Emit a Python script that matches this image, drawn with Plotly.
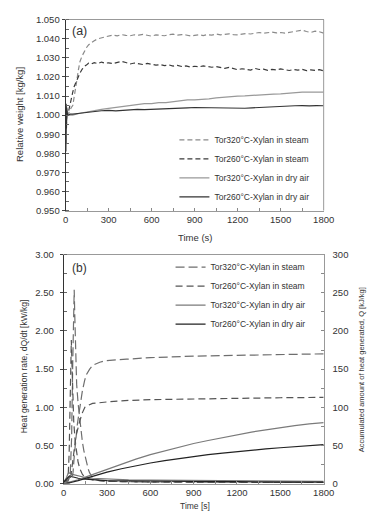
import plotly.graph_objects as go

# ---------------- Panel (a): relative weight ----------------
t_steam = [0, 2, 4, 6, 8, 10, 12, 15, 20, 25, 30, 40, 50, 60, 70, 80, 90, 100, 115, 130,
           145, 160, 180, 200, 225, 250, 275, 300,
           330, 360, 390, 420, 450, 480, 510, 540, 570, 600, 630, 660, 690, 720, 750, 780,
           810, 840, 870, 900, 930, 960, 990, 1020, 1050, 1080, 1110, 1140, 1170, 1200,
           1230, 1260, 1290, 1320, 1350, 1380, 1410, 1440, 1470, 1500, 1530, 1560, 1590,
           1620, 1650, 1680, 1710, 1740, 1770, 1800]
w_steam320 = [1.000, 0.992, 1.003, 0.997, 1.001, 0.999, 1.001, 1.000, 1.001, 1.002, 1.003,
              1.004, 1.005, 1.009, 1.014, 1.019, 1.024, 1.028, 1.031, 1.0335, 1.0353, 1.0368,
              1.038, 1.039, 1.040, 1.0405, 1.041, 1.0415,
              1.0420, 1.0415, 1.0422, 1.0418, 1.0416, 1.0421, 1.0419, 1.0423, 1.0417, 1.0414,
              1.0420, 1.0418, 1.0416, 1.0421, 1.0424, 1.0419, 1.0422, 1.0420, 1.0415, 1.0418,
              1.0421, 1.0417, 1.0422, 1.0419, 1.0425, 1.0421, 1.0423, 1.0426, 1.0422, 1.0420,
              1.0424, 1.0428, 1.0425, 1.0430, 1.0433, 1.0429, 1.0432, 1.0435, 1.0431, 1.0433,
              1.0430, 1.0434, 1.0437, 1.0441, 1.0445, 1.0438, 1.0433, 1.0440, 1.0437, 1.0430]
w_steam260 = [1.000, 0.985, 1.004, 0.995, 1.002, 0.998, 1.001, 1.000, 1.002, 1.004, 1.006,
              1.008, 1.012, 1.015, 1.017, 1.019, 1.021, 1.022, 1.024, 1.0255, 1.0262, 1.0272,
              1.0268, 1.0275, 1.0270, 1.0278, 1.0272, 1.0274,
              1.0270, 1.0275, 1.0282, 1.0276, 1.0268, 1.0273, 1.0270, 1.0265, 1.0271, 1.0268,
              1.0262, 1.0265, 1.0259, 1.0263, 1.0257, 1.0261, 1.0255, 1.0258, 1.0252, 1.0256,
              1.0253, 1.0258, 1.0255, 1.0251, 1.0254, 1.0248, 1.0245, 1.0250, 1.0242, 1.0238,
              1.0243, 1.0240, 1.0236, 1.0245, 1.0239, 1.0241, 1.0235, 1.0240, 1.0237, 1.0242,
              1.0238, 1.0234, 1.0239, 1.0236, 1.0240, 1.0233, 1.0237, 1.0234, 1.0238, 1.0232]

t_dry = [0, 2, 4, 6, 8, 10, 12, 15, 20, 30, 50,
         100, 150, 200, 250, 300, 350, 400, 450, 500, 550, 600, 650, 700, 750, 800, 850,
         900, 950, 1000, 1050, 1100, 1150, 1200, 1250, 1300, 1350, 1400, 1450, 1500, 1550,
         1600, 1650, 1700, 1750, 1800]
w_dry320 = [1.000, 0.990, 1.005, 0.996, 1.003, 0.999, 1.002, 1.000, 1.0005, 1.000, 1.000,
            1.001, 1.0017, 1.0025, 1.003, 1.0035, 1.004, 1.0045, 1.005, 1.0055, 1.006, 1.006,
            1.0065, 1.0066, 1.007, 1.0075, 1.008, 1.008, 1.0081, 1.0085, 1.009, 1.0094,
            1.0096, 1.010, 1.0101, 1.0104, 1.0106, 1.011, 1.011, 1.0111, 1.0115, 1.0116,
            1.012, 1.012, 1.0121, 1.012]
w_dry260 = [1.000, 0.981, 1.006, 0.993, 1.004, 0.998, 1.001, 1.000, 1.000, 1.0005, 1.0005,
            1.001, 1.0015, 1.002, 1.0023, 1.0025, 1.0022, 1.0025, 1.0028, 1.003, 1.0029,
            1.003, 1.0032, 1.0033, 1.0035, 1.0037, 1.0038, 1.004, 1.0039, 1.0038, 1.0037,
            1.0036, 1.0035, 1.0034, 1.0036, 1.0038, 1.004, 1.0042, 1.0045, 1.0048, 1.0047,
            1.0049, 1.005, 1.0048, 1.005, 1.0049]

# ---------------- Panel (b): heat generation ----------------
t_rate320s = [0, 30, 45, 55, 63, 70, 73, 77, 82, 90, 100, 110, 120, 130, 140, 150, 160, 170,
              180, 190, 200, 225, 250, 300, 400, 600, 900, 1200, 1500, 1800]
r_steam320 = [0.02, 0.03, 0.10, 0.60, 1.60, 2.40, 2.54, 2.20, 1.70, 1.30, 1.05, 0.85, 0.68,
              0.54, 0.43, 0.34, 0.26, 0.19, 0.14, 0.10, 0.08, 0.05, 0.04, 0.03, 0.025, 0.02,
              0.02, 0.015, 0.015, 0.015]
t_rate260s = [0, 30, 38, 45, 50, 53, 57, 62, 70, 80, 90, 100, 113, 130, 150, 200, 300, 600,
              1200, 1800]
r_steam260 = [0.02, 0.05, 0.40, 1.20, 1.70, 1.88, 1.60, 1.20, 0.80, 0.55, 0.40, 0.28, 0.19,
              0.12, 0.08, 0.05, 0.03, 0.02, 0.015, 0.015]
t_ratedry = [0, 20, 30, 40, 60, 100, 150, 200, 300, 450, 600, 900, 1200, 1500, 1800]
r_dry320 = [0.02, 0.08, 0.13, 0.14, 0.12, 0.10, 0.08, 0.07, 0.06, 0.05, 0.045, 0.04, 0.035,
            0.03, 0.03]
r_dry260 = [0.02, 0.06, 0.09, 0.10, 0.09, 0.07, 0.06, 0.05, 0.04, 0.035, 0.03, 0.028, 0.025,
            0.022, 0.02]

t_Q320s = [0, 40, 55, 65, 75, 85, 95, 102, 115, 130, 145, 158, 180, 202, 250, 291, 435, 600,
           900, 1200, 1500, 1800]
Q_steam320 = [0, 0, 3, 15, 40, 62, 78, 87, 105, 122, 135, 143, 150, 155, 159, 161, 163, 165,
              167, 168, 169, 170]
t_Q260s = [0, 35, 40, 50, 60, 70, 80, 90, 100, 113, 130, 147, 175, 200, 300, 450, 600, 900,
           1200, 1500, 1800]
Q_steam260 = [0, 0, 2, 10, 25, 42, 55, 66, 75, 83, 93, 100, 103, 105, 107, 109, 110, 111,
              112, 112.5, 113]
t_Qdry = [0, 50, 100, 150, 200, 250, 300, 400, 500, 600, 700, 800, 900, 1000, 1100, 1200,
          1300, 1400, 1500, 1600, 1700, 1800]
Q_dry320 = [0, 2, 5, 8.5, 12, 15.5, 19, 25.5, 32, 38, 43, 48, 52.5, 56.5, 60.5, 64, 67.5,
            70.5, 73.5, 76, 78.2, 80]
Q_dry260 = [0, 1.5, 4, 7, 10, 12.5, 15, 19.5, 23.5, 27, 30, 33, 35.5, 38, 40, 42, 44, 45.5,
            47, 48.5, 50, 51]

names = ["Tor320°C-Xylan in steam", "Tor260°C-Xylan in steam",
         "Tor320°C-Xylan in dry air", "Tor260°C-Xylan in dry air"]

W, H = 378, 517
FONT = "Liberation Sans, Arial, sans-serif"

def px_x(p):
    return p / W

def px_y(p):
    return 1 - p / H

fig = go.Figure()

styleA = [dict(color="#8a8a8a", width=1.2, dash="5px,3px"),
          dict(color="#3a3a3a", width=1.2, dash="5px,3px"),
          dict(color="#999999", width=1.2),
          dict(color="#333333", width=1.2)]
seriesA = [(t_steam, w_steam320), (t_steam, w_steam260), (t_dry, w_dry320), (t_dry, w_dry260)]
for (tx, wy), nm, st in zip(seriesA, names, styleA):
    fig.add_trace(go.Scatter(x=tx, y=wy, mode="lines", name=nm, line=st,
                             xaxis="x", yaxis="y", legend="legend"))

styleB = [dict(color="#6e6e6e", width=1.2, dash="9px,4px"),
          dict(color="#555555", width=1.2, dash="7px,4px"),
          dict(color="#7a7a7a", width=1.2),
          dict(color="#222222", width=1.2)]
rates = [(t_rate320s, r_steam320), (t_rate260s, r_steam260), (t_ratedry, r_dry320), (t_ratedry, r_dry260)]
accs = [(t_Q320s, Q_steam320), (t_Q260s, Q_steam260), (t_Qdry, Q_dry320), (t_Qdry, Q_dry260)]
for (tr, rv), (tq, qv), nm, st in zip(rates, accs, names, styleB):
    fig.add_trace(go.Scatter(x=tr, y=rv, mode="lines", name=nm, line=st,
                             xaxis="x2", yaxis="y2", legend="legend2", legendgroup=nm))
    fig.add_trace(go.Scatter(x=tq, y=qv, mode="lines", name=nm, line=st, showlegend=False,
                             xaxis="x2", yaxis="y3", legend="legend2", legendgroup=nm))

tickfont = dict(family=FONT, size=9.5, color="#333")

common_x = dict(range=[0, 1800], tickvals=[0, 300, 600, 900, 1200, 1500, 1800],
                ticks="inside", ticklen=3, tickcolor="#888",
                minor=dict(dtick=150, ticks="inside", ticklen=3, tickcolor="#888"),
                showline=True, linecolor="#999", linewidth=1, mirror=True,
                showgrid=False, zeroline=False, tickfont=tickfont)

fig.update_layout(
    width=W, height=H,
    margin=dict(l=0, r=0, t=0, b=0),
    paper_bgcolor="white", plot_bgcolor="white",
    font=dict(family=FONT, color="#333"),
    showlegend=True,
    xaxis=dict(domain=[px_x(65), px_x(333)], anchor="y", **common_x),
    yaxis=dict(domain=[px_y(209), px_y(14)], anchor="x", range=[0.95, 1.05], dtick=0.01,
               tickformat=".3f", ticks="outside", ticklen=3, tickcolor="#444",
               minor=dict(dtick=0.005, ticks="inside", ticklen=3, tickcolor="#666"),
               showline=True, linecolor="#333", linewidth=1, mirror=False,
               showgrid=False, zeroline=False, tickfont=tickfont),
    xaxis2=dict(domain=[px_x(63), px_x(333)], anchor="y2", **common_x),
    yaxis2=dict(domain=[px_y(488), px_y(254)], anchor="x2", range=[0, 3], dtick=0.5,
                tickformat=".2f", ticks="outside", ticklen=3, tickcolor="#444",
                ticklabelstandoff=4,
                minor=dict(dtick=0.25, ticks="inside", ticklen=3, tickcolor="#666"),
                showline=True, linecolor="#333", linewidth=1, mirror=False,
                showgrid=False, zeroline=False, tickfont=tickfont),
    yaxis3=dict(overlaying="y2", side="right", anchor="x2", range=[0, 300], dtick=50,
                ticks="inside", ticklen=3, tickcolor="#888", ticklabelstandoff=6,
                minor=dict(dtick=25, ticks="inside", ticklen=3, tickcolor="#888"),
                showline=True, linecolor="#999", linewidth=1,
                showgrid=False, zeroline=False, tickfont=tickfont),
    legend=dict(x=px_x(178), y=px_y(122), xanchor="left", yanchor="top",
                bgcolor="rgba(0,0,0,0)", font=dict(family=FONT, size=8.5, color="#333"),
                itemwidth=30, tracegroupgap=0),
    legend2=dict(x=px_x(174), y=px_y(252), xanchor="left", yanchor="top",
                 bgcolor="rgba(0,0,0,0)", font=dict(family=FONT, size=8.5, color="#333"),
                 itemwidth=30, tracegroupgap=0),
)

# right border of panel (a)
fig.add_shape(type="line", xref="x domain", yref="y domain", x0=1, x1=1, y0=0, y1=1,
              line=dict(color="#999", width=1))

ann = [
    dict(text="(a)", x=px_x(70), y=px_y(26), xanchor="left", yanchor="middle", size=12.5),
    dict(text="(b)", x=px_x(70), y=px_y(268), xanchor="left", yanchor="middle", size=12),
    dict(text="Time (s)", x=px_x(199), y=px_y(237), xanchor="center", yanchor="middle", size=9.5),
    dict(text="Time [s]", x=px_x(199), y=px_y(511), xanchor="center", yanchor="middle", size=8.5),
]
for a in ann:
    fig.add_annotation(text=a["text"], x=a["x"], y=a["y"], xref="paper", yref="paper",
                       xanchor=a["xanchor"], yanchor=a["yanchor"], showarrow=False,
                       font=dict(family=FONT, size=a["size"], color="#333"))

rot = [
    dict(text="Relative weight [kg/kg]", x=px_x(17), y=px_y(111), size=9.5),
    dict(text="Heat generation rate, dQ/dt [kW/kg]", x=px_x(22), y=px_y(368), size=8.5),
    dict(text="Accumulated amount of heat generated, Q [kJ/kg]", x=px_x(372), y=px_y(372), size=7.5),
]
for a in rot:
    fig.add_annotation(text=a["text"], x=a["x"], y=a["y"], xref="paper", yref="paper",
                       xanchor="center", yanchor="middle", textangle=-90, showarrow=False,
                       font=dict(family=FONT, size=a["size"], color="#333"))

fig.write_html("out.html")
